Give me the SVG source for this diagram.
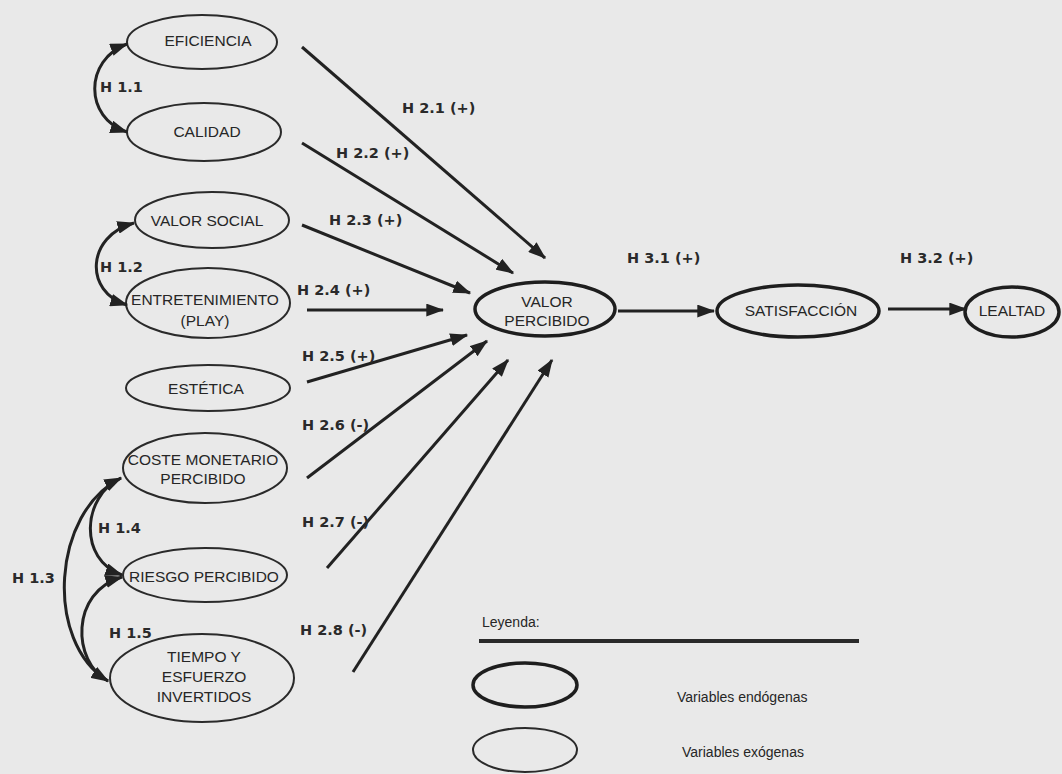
<svg xmlns="http://www.w3.org/2000/svg" width="1062" height="774" viewBox="0 0 1062 774">
  <defs>
    <marker id="arrow" viewBox="0 0 14 10" refX="13" refY="5" markerWidth="18" markerHeight="13" markerUnits="userSpaceOnUse" orient="auto-start-reverse">
      <path d="M0,0 L14,5 L0,10 z" fill="#222"/>
    </marker>
    <style>
      .bg { fill: #e9e9e9; }
      .exo { fill: none; stroke: #2a2a2a; stroke-width: 2; }
      .endo { fill: none; stroke: #1e1e1e; stroke-width: 3.5; }
      .node text { font-family: "Liberation Sans", Arial, sans-serif; font-size: 15.5px; fill: #262626; text-anchor: middle; }
      .conn path, .conn line { fill: none; stroke: #222; stroke-width: 3; }
      .lbl { font-family: "DejaVu Sans", Verdana, sans-serif; font-weight: bold; font-size: 14.5px; fill: #2a2a2a; }
      .legend text { font-family: "Liberation Sans", Arial, sans-serif; fill: #262626; }
    </style>
  </defs>

  <rect class="bg" x="0" y="0" width="1062" height="774"/>

  <!-- exogenous variables -->
  <g id="eficiencia" class="node">
    <ellipse class="exo" cx="202" cy="42" rx="75" ry="27"/>
    <text x="208" y="46">EFICIENCIA</text>
  </g>
  <g id="calidad" class="node">
    <ellipse class="exo" cx="204" cy="132" rx="77" ry="29"/>
    <text x="207" y="137">CALIDAD</text>
  </g>
  <g id="valor-social" class="node">
    <ellipse class="exo" cx="212" cy="220" rx="77" ry="28"/>
    <text x="207" y="226">VALOR SOCIAL</text>
  </g>
  <g id="entretenimiento" class="node">
    <ellipse class="exo" cx="208" cy="303" rx="82" ry="35"/>
    <text x="205" y="305">ENTRETENIMIENTO</text>
    <text x="205" y="326">(PLAY)</text>
  </g>
  <g id="estetica" class="node">
    <ellipse class="exo" cx="208" cy="388" rx="82" ry="23"/>
    <text x="206" y="394">ESTÉTICA</text>
  </g>
  <g id="coste-monetario" class="node">
    <ellipse class="exo" cx="205" cy="468" rx="82" ry="35"/>
    <text x="203" y="465">COSTE MONETARIO</text>
    <text x="203" y="484">PERCIBIDO</text>
  </g>
  <g id="riesgo" class="node">
    <ellipse class="exo" cx="205" cy="575" rx="82" ry="27"/>
    <text x="204" y="582">RIESGO PERCIBIDO</text>
  </g>
  <g id="tiempo-esfuerzo" class="node">
    <ellipse class="exo" cx="202" cy="678" rx="92" ry="44"/>
    <text x="204" y="662">TIEMPO Y</text>
    <text x="204" y="682">ESFUERZO</text>
    <text x="204" y="702">INVERTIDOS</text>
  </g>

  <!-- endogenous variables -->
  <g id="valor-percibido" class="node">
    <ellipse class="endo" cx="545" cy="309" rx="70" ry="27"/>
    <text x="547" y="307">VALOR</text>
    <text x="547" y="326">PERCIBIDO</text>
  </g>
  <g id="satisfaccion" class="node">
    <ellipse class="endo" cx="798" cy="311" rx="81" ry="26"/>
    <text x="801" y="316">SATISFACCIÓN</text>
  </g>
  <g id="lealtad" class="node">
    <ellipse class="endo" cx="1012" cy="312" rx="47" ry="25"/>
    <text x="1012" y="316">LEALTAD</text>
  </g>

  <!-- hypothesised relations -->
  <g id="connectors" class="conn">
    <!-- correlations among exogenous variables -->
    <path d="M127,44 C84,60 84,118 127,132" marker-start="url(#arrow)" marker-end="url(#arrow)"/>
    <path d="M134,223 C86,236 84,292 127,305" marker-start="url(#arrow)" marker-end="url(#arrow)"/>
    <path d="M121,478 C52,512 44,642 108,681" marker-start="url(#arrow)" marker-end="url(#arrow)"/>
    <path d="M121,478 C82,496 78,560 122,575" marker-end="url(#arrow)"/>
    <path d="M122,577 C70,592 72,662 108,681" marker-start="url(#arrow)"/>
    <!-- effects on perceived value -->
    <line x1="302" y1="47" x2="545" y2="258" marker-end="url(#arrow)"/>
    <line x1="302" y1="143" x2="513" y2="273" marker-end="url(#arrow)"/>
    <line x1="302" y1="225" x2="470" y2="293" marker-end="url(#arrow)"/>
    <line x1="307" y1="310" x2="443" y2="310" marker-end="url(#arrow)"/>
    <line x1="307" y1="382" x2="467" y2="335" marker-end="url(#arrow)"/>
    <line x1="307" y1="478" x2="487" y2="341" marker-end="url(#arrow)"/>
    <line x1="327" y1="568" x2="508" y2="360" marker-end="url(#arrow)"/>
    <line x1="353" y1="672" x2="552" y2="360" marker-end="url(#arrow)"/>
    <!-- value -> satisfaction -> loyalty -->
    <line x1="618" y1="311" x2="714" y2="311" marker-end="url(#arrow)"/>
    <line x1="888" y1="309" x2="966" y2="309" marker-end="url(#arrow)"/>
  </g>

  <!-- hypothesis labels -->
  <g id="labels">
    <text class="lbl" x="100" y="92">H 1.1</text>
    <text class="lbl" x="100" y="272">H 1.2</text>
    <text class="lbl" x="12" y="583">H 1.3</text>
    <text class="lbl" x="98" y="533">H 1.4</text>
    <text class="lbl" x="109" y="638">H 1.5</text>
    <text class="lbl" x="402" y="113">H 2.1 (+)</text>
    <text class="lbl" x="336" y="158">H 2.2 (+)</text>
    <text class="lbl" x="329" y="225">H 2.3 (+)</text>
    <text class="lbl" x="297" y="295">H 2.4 (+)</text>
    <text class="lbl" x="302" y="361">H 2.5 (+)</text>
    <text class="lbl" x="302" y="430">H 2.6 (-)</text>
    <text class="lbl" x="302" y="527">H 2.7 (-)</text>
    <text class="lbl" x="300" y="635">H 2.8 (-)</text>
    <text class="lbl" x="627" y="263">H 3.1 (+)</text>
    <text class="lbl" x="900" y="263">H 3.2 (+)</text>
  </g>

  <!-- legend -->
  <g id="legend" class="legend">
    <text x="482" y="627" font-size="14">Leyenda:</text>
    <line x1="479" y1="641" x2="859" y2="641" stroke="#2a2a2a" stroke-width="4"/>
    <ellipse class="endo" cx="525" cy="685" rx="52" ry="22"/>
    <text x="677" y="702" font-size="14">Variables endógenas</text>
    <ellipse class="exo" cx="525" cy="750" rx="52" ry="22"/>
    <text x="682" y="757" font-size="14">Variables exógenas</text>
  </g>
</svg>
